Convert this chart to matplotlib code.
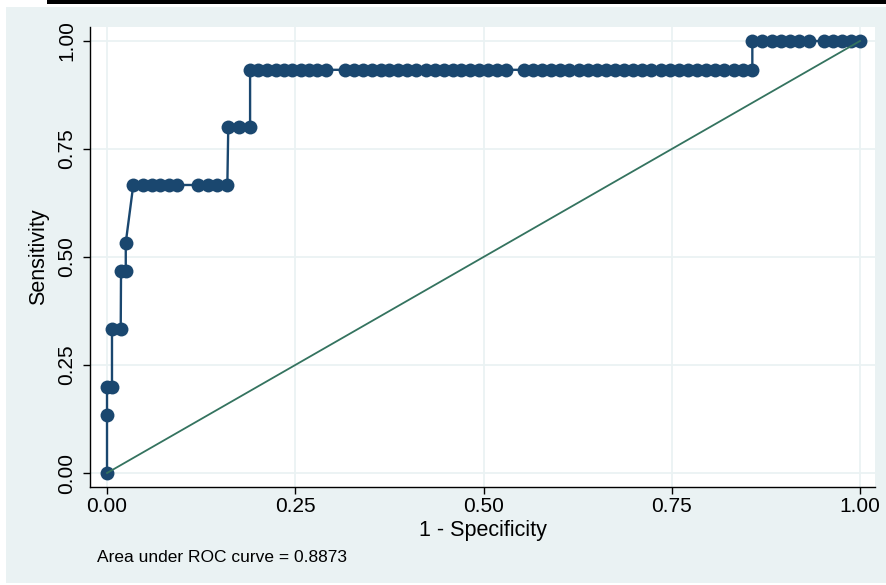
import matplotlib
matplotlib.use('Agg')
import matplotlib.pyplot as plt
from matplotlib.patches import Rectangle

# ROC points, in plotting order (1 - specificity, sensitivity)
fpr = [0.000, 0.000, 0.000, 0.0066,
       0.0066, 0.0182,
       0.0186, 0.0249,
       0.0249,
       0.0349, 0.0477, 0.0591, 0.0705, 0.0819, 0.0934,
       0.1205, 0.1335, 0.1467, 0.1598,
       0.161, 0.1753, 0.190,
       0.190, 0.201, 0.2125, 0.2238, 0.2351, 0.2463, 0.2576, 0.2683, 0.2795, 0.2908,
       0.316, 0.328, 0.340, 0.352, 0.364, 0.375, 0.387, 0.399, 0.411, 0.423,
       0.435, 0.447, 0.459, 0.470, 0.482, 0.494, 0.506, 0.518, 0.530,
       0.554, 0.566, 0.578, 0.590, 0.602, 0.614, 0.627, 0.639, 0.651, 0.663,
       0.675, 0.687, 0.699, 0.711, 0.723, 0.736, 0.748, 0.760, 0.772, 0.784,
       0.796, 0.808, 0.820, 0.833, 0.845, 0.857,
       0.857, 0.870, 0.883, 0.895, 0.907, 0.919, 0.932,
       0.952, 0.964, 0.976, 0.988, 1.000]
sens = [0.0000, 0.1333, 0.2000, 0.2000,
        0.3333, 0.3333,
        0.4667, 0.4667,
        0.5333] + [0.6667]*10 + [0.8000]*3 + [0.9333]*55 + [1.0000]*12

ticks = [0, 0.25, 0.5, 0.75, 1.0]
auc_note = 'Area under ROC curve = 0.8873'

navy = '#1A476F'
bg = '#EAF2F3'

plt.rcParams['font.family'] = ['Liberation Sans', 'DejaVu Sans']

fig = plt.figure(figsize=(8.86, 5.85), dpi=100, facecolor='white')
fig.patches.append(Rectangle((6/886, 2/585), 880/886, 576/585, transform=fig.transFigure,
                             facecolor=bg, edgecolor='none', zorder=-2))
fig.patches.append(Rectangle((47/886, 581/585), 839/886, 4/585, transform=fig.transFigure,
                             facecolor='black', edgecolor='none', zorder=-2))

ax = fig.add_axes([90/886, 98/585, 785/886, 460/585])
ax.set_zorder(1)
ax.set_facecolor('white')
ax.plot(fpr, sens, '-o', color=navy, lw=1.7, markersize=10, markeredgewidth=0, zorder=3)
ax.plot([0, 1], [0, 1], color='#34735F', lw=1.3, zorder=4)

ax.set_xlim(-0.0226, 1.0199)
ax.set_ylim(-0.0324, 1.0324)
ax.set_xticks(ticks)
ax.set_yticks(ticks)
ax.set_xticklabels(['%.2f' % t for t in ticks])
ax.set_yticklabels(['%.2f' % t for t in ticks], rotation=90, va='center')
ax.grid(True, color=bg, lw=1.3, zorder=0)
ax.set_axisbelow(True)
for s in ['top', 'right']:
    ax.spines[s].set_visible(False)
for s in ['left', 'bottom']:
    ax.spines[s].set_linewidth(1.0)
ax.tick_params(direction='out', length=5, width=1.0, labelsize=15, pad=2)
ax.tick_params(axis='y', pad=5)
ax.set_xlabel('1 - Specificity', fontsize=15.5, labelpad=3)
ax.set_ylabel('Sensitivity', fontsize=15.5, labelpad=6)

fig.text(97/886, 1 - 557/585, auc_note, fontsize=12.5, va='center', ha='left')

plt.savefig('out.png', dpi=100, facecolor=fig.get_facecolor())
